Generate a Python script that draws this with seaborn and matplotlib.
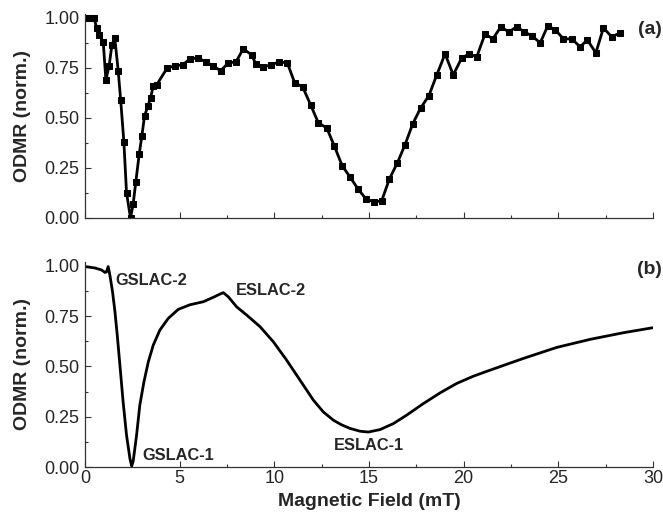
import matplotlib
matplotlib.use("Agg")
import matplotlib.pyplot as plt
from matplotlib.ticker import MultipleLocator
import seaborn as sns
import pandas as pd

# (a) measured ODMR, square markers
field_a = [0.1, 0.23, 0.49, 0.62, 0.76, 0.97, 1.11, 1.28, 1.43, 1.58, 1.76, 1.89,
           2.06, 2.2, 2.41, 2.55, 2.69, 2.87, 3.01, 3.15, 3.33, 3.47, 3.61, 3.79,
           4.35, 4.75, 5.16, 5.55, 5.97, 6.38, 6.78, 7.17, 7.57, 7.98, 8.36, 8.81,
           9.02, 9.42, 9.83, 10.26, 10.69, 11.08, 11.5, 11.92, 12.33, 12.77, 13.17,
           13.59, 14.0, 14.42, 14.84, 15.25, 15.67, 16.08, 16.5, 16.9, 17.31, 17.73,
           18.16, 18.58, 19.02, 19.45, 19.9, 20.3, 20.69, 21.13, 21.54, 21.96, 22.38,
           22.8, 23.2, 23.61, 24.04, 24.44, 24.84, 25.27, 25.71, 26.15, 26.53, 26.98,
           27.38, 27.82, 28.26]
odmr_a = [1.0, 1.0, 1.0, 0.95, 0.915, 0.88, 0.69, 0.76, 0.865, 0.9, 0.735, 0.59,
          0.38, 0.125, 0.0, 0.07, 0.18, 0.32, 0.41, 0.51, 0.56, 0.6, 0.66, 0.665,
          0.75, 0.76, 0.765, 0.795, 0.8, 0.78, 0.76, 0.735, 0.775, 0.78, 0.845, 0.815,
          0.77, 0.755, 0.765, 0.78, 0.775, 0.675, 0.655, 0.565, 0.475, 0.45, 0.36,
          0.26, 0.205, 0.145, 0.095, 0.08, 0.085, 0.195, 0.275, 0.365, 0.47, 0.55,
          0.61, 0.715, 0.82, 0.715, 0.8, 0.82, 0.805, 0.92, 0.895, 0.955, 0.93,
          0.955, 0.93, 0.91, 0.875, 0.96, 0.94, 0.895, 0.895, 0.855, 0.89, 0.825,
          0.95, 0.905, 0.925]

# (b) simulated ODMR
field_b = [0.0, 0.53, 0.88, 1.06, 1.14, 1.23, 1.32, 1.46, 1.58, 1.71, 1.85, 2.02,
           2.2, 2.38, 2.47, 2.55, 2.73, 2.9, 3.12, 3.35, 3.61, 3.96, 4.4, 4.93,
           5.55, 6.25, 6.78, 7.13, 7.31, 7.57, 8.01, 8.54, 9.25, 9.95, 10.65, 11.36,
           12.07, 12.59, 13.12, 13.55, 14.0, 14.53, 14.97, 15.58, 16.29, 16.99,
           17.88, 18.76, 19.64, 20.52, 21.4, 23.15, 24.92, 26.68, 28.44, 30.0]
odmr_b = [0.997, 0.99, 0.98, 0.968, 0.97, 0.997, 0.955, 0.872, 0.78, 0.656, 0.507,
          0.324, 0.158, 0.042, 0.005, 0.028, 0.158, 0.307, 0.424, 0.523, 0.606,
          0.681, 0.739, 0.784, 0.807, 0.822, 0.844, 0.86, 0.867, 0.847, 0.797,
          0.756, 0.698, 0.623, 0.532, 0.432, 0.332, 0.274, 0.233, 0.21, 0.192,
          0.178, 0.174, 0.186, 0.216, 0.258, 0.316, 0.369, 0.416, 0.452, 0.482,
          0.54, 0.595, 0.635, 0.668, 0.693]

labels_b = ["GSLAC-2", "GSLAC-1", "ESLAC-2", "ESLAC-1"]
label_x = [1.62, 3.05, 7.98, 13.15]
label_y = [0.93, 0.058, 0.88, 0.108]

sns.set_style("ticks")
plt.rcParams['font.family'] = ['Liberation Sans', 'DejaVu Sans']

df_a = pd.DataFrame({"field": field_a, "odmr": odmr_a})
df_b = pd.DataFrame({"field": field_b, "odmr": odmr_b})

fig = plt.figure(figsize=(6.63, 5.14), dpi=100)
ax1 = fig.add_axes([0.128, 0.576, 0.857, 0.397])
ax2 = fig.add_axes([0.128, 0.0914, 0.857, 0.399])

sns.lineplot(data=df_a, x="field", y="odmr", ax=ax1, color="black", lw=2.0,
             marker="s", markersize=3.8, markeredgecolor="black")
sns.lineplot(data=df_b, x="field", y="odmr", ax=ax2, color="black", lw=2.0)

for ax in (ax1, ax2):
    ax.set_xlim(0, 30)
    ax.set_ylim(0, 1.02)
    ax.xaxis.set_major_locator(MultipleLocator(5))
    ax.xaxis.set_minor_locator(MultipleLocator(2.5))
    ax.yaxis.set_major_locator(MultipleLocator(0.25))
    ax.yaxis.set_minor_locator(MultipleLocator(0.125))
    ax.tick_params(which="both", direction="in", labelsize=13, color="#333333")
    ax.tick_params(which="major", length=4, width=0.8, pad=2)
    ax.tick_params(which="minor", length=2.5, width=0.8)
    ax.tick_params(axis="y", pad=4)
    ax.yaxis.set_major_formatter(plt.FormatStrFormatter("%.2f"))
    ax.set_ylabel("ODMR (norm.)", fontsize=14, fontweight="bold")
    ax.yaxis.set_label_coords(-0.095, 0.5)
    sns.despine(ax=ax)
    for s in ("left", "bottom"):
        ax.spines[s].set_linewidth(0.9)
        ax.spines[s].set_color("#333333")

ax1.set_xlabel("")
ax1.tick_params(axis="x", labelbottom=False)
ax2.set_xlabel("Magnetic Field (mT)", fontsize=14, fontweight="bold")
ax2.xaxis.set_label_coords(0.5, -0.125)

ax1.text(30.46, 0.943, "(a)", fontsize=14, fontweight="bold", ha="right",
         va="center", clip_on=False)
ax2.text(30.46, 0.98, "(b)", fontsize=14, fontweight="bold", ha="right",
         va="center", clip_on=False)
for lab, lx, ly in zip(labels_b, label_x, label_y):
    ax2.text(lx, ly, lab, fontsize=11.8, fontweight="bold", ha="left", va="center")

plt.savefig("out.png", dpi=100)
